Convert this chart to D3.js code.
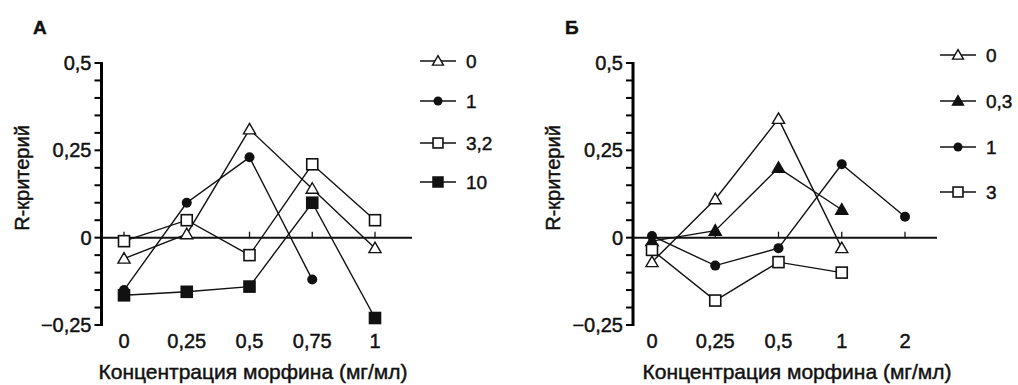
<!DOCTYPE html>
<html>
<head>
<meta charset="utf-8">
<script src="https://cdn.jsdelivr.net/npm/d3@7"></script>
<style>
  body { margin: 0; background: #fff; }
  text { font-family: "Liberation Sans", Arial, sans-serif; fill: #111; stroke: #111; stroke-width: 0.45px; }
</style>
</head>
<body>
<svg id="chart" width="1018" height="385"></svg>
<script>
// Panel A
const catsA = ["0", "0,25", "0,5", "0,75", "1"];
const a0   = [-0.06, 0.01, 0.31, 0.14, -0.03];
const a1   = [-0.15, 0.10, 0.23, -0.12, null];
const a32  = [-0.01, 0.05, -0.05, 0.21, 0.05];
const a10  = [-0.165, -0.155, -0.14, 0.10, -0.23];
const legendA = ["0", "1", "3,2", "10"];

// Panel B
const catsB = ["0", "0,25", "0,5", "1", "2"];
const b0   = [-0.07, 0.11, 0.34, -0.03, null];
const b03  = [-0.01, 0.02, 0.20, 0.08, null];
const b1   = [0.005, -0.08, -0.03, 0.21, 0.06];
const b3   = [-0.035, -0.18, -0.07, -0.10, null];
const legendB = ["0", "0,3", "1", "3"];

const yTicks = [0.5, 0.25, 0, -0.25];
const yTickLabels = ["0,5", "0,25", "0", "\u22120,25"];
const yMinor = d3.range(-0.25, 0.5001, 0.05);

const svg = d3.select("#chart");

function drawMarker(g, type, x, y, k = 1) {
    if (type === "triOpen" || type === "triFill") {
        g.append("path")
            .attr("d", d3.symbol().type(d3.symbolTriangle).size(64 * k * k)())
            .attr("transform", `translate(${x},${y + 1})`)
            .attr("fill", type === "triFill" ? "#111" : "#fff")
            .attr("stroke", "#111").attr("stroke-width", 1.4);
    } else if (type === "circle") {
        g.append("circle").attr("cx", x).attr("cy", y).attr("r", 5 * k)
            .attr("fill", "#111");
    } else if (type === "sqOpen" || type === "sqFill") {
        const h = 5.5 * k;
        g.append("rect").attr("x", x - h).attr("y", y - h)
            .attr("width", 2 * h).attr("height", 2 * h)
            .attr("fill", type === "sqFill" ? "#111" : "#fff")
            .attr("stroke", "#111").attr("stroke-width", 1.6);
    }
}

function panel(opt) {
    const g = svg.append("g");
    const x = d3.scalePoint().domain(opt.cats).range(opt.xRange);
    const y = d3.scaleLinear().domain([-0.25, 0.5]).range([325, 63]);

    // letter
    g.append("text").attr("x", opt.letterX).attr("y", 34)
        .attr("font-size", 19).attr("font-weight", "bold").text(opt.letter);

    // y axis bar + ticks every 0.05
    g.append("rect").attr("x", opt.axisX - 1.5).attr("width", 3)
        .attr("y", y(0.5) - 1).attr("height", y(-0.25) - y(0.5) + 2)
        .attr("fill", "#000");
    g.selectAll("rect.yt").data(yMinor).enter().append("rect")
        .attr("class", "yt")
        .attr("x", opt.axisX - 7).attr("width", 7)
        .attr("y", d => y(d) - 1).attr("height", 2)
        .attr("fill", "#000");

    g.selectAll("text.ytl").data(yTicks).enter().append("text")
        .attr("class", "ytl")
        .attr("x", opt.axisX - 10).attr("y", d => y(d))
        .attr("text-anchor", "end").attr("dominant-baseline", "central")
        .attr("font-size", 20).text((d, i) => yTickLabels[i]);

    // zero line with small up ticks
    g.append("line").attr("x1", opt.axisX).attr("x2", opt.zeroEnd)
        .attr("y1", y(0)).attr("y2", y(0))
        .attr("stroke", "#111").attr("stroke-width", 2);
    g.selectAll("line.xt").data(opt.cats).enter().append("line")
        .attr("class", "xt")
        .attr("x1", d => x(d)).attr("x2", d => x(d))
        .attr("y1", y(0)).attr("y2", y(0) - 6)
        .attr("stroke", "#111").attr("stroke-width", 1.3);

    // x tick labels
    g.selectAll("text.xtl").data(opt.cats).enter().append("text")
        .attr("class", "xtl")
        .attr("x", d => x(d)).attr("y", 341)
        .attr("text-anchor", "middle").attr("dominant-baseline", "central")
        .attr("font-size", 20).text(d => d);

    // axis titles
    g.append("text").attr("x", opt.titleX).attr("y", 371)
        .attr("text-anchor", "middle").attr("dominant-baseline", "central")
        .attr("font-size", 21)
        .text("Концентрация морфина (мг/мл)");
    g.append("text")
        .attr("transform", `translate(${opt.yTitleX},178) rotate(-90)`)
        .attr("text-anchor", "middle").attr("dominant-baseline", "central")
        .attr("font-size", 20).text("R-критерий");

    // series
    const line = d3.line().defined(d => d[1] !== null)
        .x(d => x(d[0])).y(d => y(d[1]));
    opt.series.forEach(s => {
        const pts = opt.cats.map((c, i) => [c, s.values[i]]);
        g.append("path").datum(pts).attr("d", line)
            .attr("fill", "none").attr("stroke", "#111").attr("stroke-width", 1.4);
    });
    opt.series.forEach(s => {
        opt.cats.forEach((c, i) => {
            if (s.values[i] !== null) drawMarker(g, s.marker, x(c), y(s.values[i]));
        });
    });

    // legend
    opt.series.forEach((s, i) => {
        const ly = opt.legendY[i];
        g.append("line").attr("x1", opt.legendX).attr("x2", opt.legendX + 36)
            .attr("y1", ly).attr("y2", ly)
            .attr("stroke", "#111").attr("stroke-width", 1.5);
        drawMarker(g, s.marker, opt.legendX + 18, ly, 0.9);
        g.append("text").attr("x", opt.legendX + 46).attr("y", ly)
            .attr("dominant-baseline", "central").attr("font-size", 19)
            .text(opt.legend[i]);
    });
}

panel({
    letter: "А", letterX: 33, cats: catsA, xRange: [124, 375], axisX: 101.5, zeroEnd: 412,
    titleX: 253, yTitleX: 22, legendX: 420, legendY: [61, 101, 143, 182], legend: legendA,
    series: [
        { values: a0, marker: "triOpen" },
        { values: a1, marker: "circle" },
        { values: a32, marker: "sqOpen" },
        { values: a10, marker: "sqFill" }
    ]
});

panel({
    letter: "Б", letterX: 565, cats: catsB, xRange: [652, 905], axisX: 633, zeroEnd: 937,
    titleX: 797, yTitleX: 553, legendX: 940, legendY: [55, 101, 147, 192], legend: legendB,
    series: [
        { values: b0, marker: "triOpen" },
        { values: b03, marker: "triFill" },
        { values: b1, marker: "circle" },
        { values: b3, marker: "sqOpen" }
    ]
});
</script>
</body>
</html>
